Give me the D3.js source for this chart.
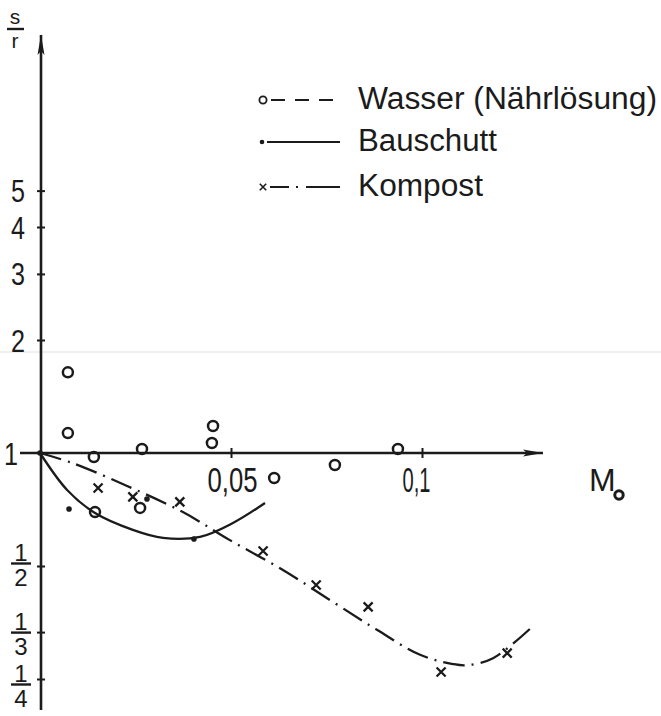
<!DOCTYPE html>
<html><head><meta charset="utf-8">
<script src="https://cdn.jsdelivr.net/npm/d3@7"></script>
<style>body{margin:0;background:#fff} svg{display:block}</style>
</head><body>
<svg id="c" width="661" height="716"></svg>
<script>
// ---- data ----
const yTicks = [1/4, 1/3, 1/2, 1, 2, 3, 4, 5];
const yTickNum = ["1", "1", "1", "1", "2", "3", "4", "5"];
const yTickDen = ["4", "3", "2", "", "", "", "", ""];
const xTicks = [0.05, 0.1];
const xTickLabels = ["0,05", "0,1"];

const wasserM  = [0.0073, 0.0073, 0.0141, 0.0267, 0.0453, 0.0450, 0.0144, 0.0262, 0.0613, 0.0772, 0.0937];
const wasserSR = [1.64,   1.13,   0.976,  1.025,  1.18,   1.063,  0.696,  0.714,  0.858,  0.929,  1.025];

const bauM  = [0, 0.0076, 0.0280, 0.0403];
const bauSR = [1, 0.709,  0.754,  0.590];
const bauCurveM  = [0, 0.0071, 0.0144, 0.0243, 0.0322, 0.0419, 0.0505, 0.0589];
const bauCurveSR = [1, 0.797,  0.692,  0.624,  0.594,  0.598,  0.651,  0.736];

const kompM  = [0.0152, 0.0243, 0.0366, 0.0584, 0.0723, 0.0859, 0.1050, 0.1223];
const kompSR = [0.807,  0.764,  0.741,  0.548,  0.445,  0.389,  0.261,  0.293];
const kompCurveM  = [0, 0.0084, 0.0228, 0.0374, 0.0497, 0.0636, 0.0767, 0.0882, 0.0995, 0.1081, 0.1118, 0.1186, 0.1288];
const kompCurveSR = [1, 0.941,  0.817,  0.696,  0.586,  0.488,  0.401,  0.338,  0.290,  0.274,  0.272,  0.284,  0.344];

const legendLabels = ["Wasser (Nährlösung)", "Bauschutt", "Kompost"];

// ---- drawing ----
const ink = "#1b1b1b";
const font = "'Liberation Sans', 'DejaVu Sans', sans-serif";
const svg = d3.select("#c");

// faint scan line
svg.append("line").attr("x1",0).attr("x2",661).attr("y1",352).attr("y2",352)
  .attr("stroke","#e2e2e2").attr("stroke-width",1.2);

const x = d3.scaleLinear().domain([0, 0.1]).range([40, 422]);
const y = d3.scaleLog().domain([0.25, 4]).range([679, 227]);

const defs = svg.append("defs");
defs.append("marker").attr("id","arr").attr("viewBox","0 0 20 10").attr("refX",20).attr("refY",5)
  .attr("markerWidth",20).attr("markerHeight",10).attr("markerUnits","userSpaceOnUse").attr("orient","auto")
  .append("path").attr("d","M0,1.5 L20,5 L0,8.5 L4,5 Z").attr("fill",ink);

// axes lines
const x0 = x(0), y1 = y(1);
svg.append("line").attr("x1",x0+1).attr("x2",x0+1).attr("y1",710).attr("y2",35)
  .attr("stroke",ink).attr("stroke-width",2.6).attr("marker-end","url(#arr)");
svg.append("line").attr("x1",20).attr("x2",543).attr("y1",y1).attr("y2",y1)
  .attr("stroke",ink).attr("stroke-width",2.4).attr("marker-end","url(#arr)");

// y axis ticks
const yAx = svg.append("g").attr("transform",`translate(${x0+1},0)`)
  .call(d3.axisLeft(y).tickValues(yTicks).tickSize(4).tickFormat(() => ""));
yAx.select(".domain").remove();
yAx.selectAll(".tick line").attr("x1",4).attr("stroke",ink).attr("stroke-width",2);
yAx.selectAll(".tick").filter(d => Math.abs(d-1) < 1e-9).select("line").remove();
yAx.selectAll(".tick").each(function(d, i) {
  const g = d3.select(this);
  g.select("text").remove();
  if (yTickDen[i] === "") {
    g.append("text").attr("x", d === 1 ? -23 : -16).attr("y", 11).attr("text-anchor","end")
      .attr("font-family",font).attr("font-size",31).attr("fill",ink)
      .attr("textLength", 14).attr("lengthAdjust","spacingAndGlyphs").text(yTickNum[i]);
  } else {
    const off = d === 0.5 ? -3 : (d === 0.25 ? 5 : 0);
    const cx = -20;
    const t = g.append("text").attr("text-anchor","middle")
      .attr("font-family",font).attr("font-size",24).attr("fill",ink);
    t.append("tspan").attr("x",cx).attr("y",off-3).text(yTickNum[i]);
    t.append("tspan").attr("x",cx).attr("y",off+22).text(yTickDen[i]);
    g.append("line").attr("x1",cx-10).attr("x2",cx+10).attr("y1",off).attr("y2",off)
      .attr("stroke",ink).attr("stroke-width",2.4);
  }
});

// x axis ticks
const xAx = svg.append("g").attr("transform",`translate(0,${y1})`)
  .call(d3.axisBottom(x).tickValues(xTicks).tickSize(5).tickFormat((d,i) => xTickLabels[i]));
xAx.select(".domain").remove();
xAx.selectAll(".tick line").attr("y1",-5).attr("stroke",ink).attr("stroke-width",2);
xAx.selectAll(".tick text").attr("font-family",font).attr("font-size",35).attr("fill",ink)
  .attr("y",14).attr("dy","0.71em").attr("dx",(d,i) => i === 1 ? -6 : 1)
  .attr("textLength",(d,i) => i === 1 ? 28 : 50).attr("lengthAdjust","spacingAndGlyphs");

// s/r label
const sr = svg.append("text").attr("text-anchor","middle").attr("font-family",font)
  .attr("font-size",21).attr("fill",ink);
sr.append("tspan").attr("x",15).attr("y",24).text("s");
sr.append("tspan").attr("x",15).attr("y",48).text("r");
svg.append("line").attr("x1",7).attr("x2",24).attr("y1",29).attr("y2",29).attr("stroke",ink).attr("stroke-width",2.4);

// M0 label
svg.append("text").attr("x",589).attr("y",491).attr("font-family",font)
  .attr("font-size",32).attr("fill",ink).text("M");
svg.append("circle").attr("cx",619).attr("cy",495).attr("r",4.2).attr("fill","none").attr("stroke",ink).attr("stroke-width",3);

// curves
const line = d3.line().x(d => x(d[0])).y(d => y(d[1])).curve(d3.curveCatmullRom.alpha(0.5));
svg.append("path").datum(d3.zip(bauCurveM, bauCurveSR)).attr("d", line)
  .attr("fill","none").attr("stroke",ink).attr("stroke-width",2.3);
svg.append("path").datum(d3.zip(kompCurveM, kompCurveSR)).attr("d", line)
  .attr("fill","none").attr("stroke",ink).attr("stroke-width",2.3).attr("stroke-dasharray","22,7,2,7");

// markers
svg.append("g").selectAll("circle").data(d3.zip(wasserM, wasserSR)).join("circle")
  .attr("cx", d => x(d[0])).attr("cy", d => y(d[1])).attr("r",5)
  .attr("fill","none").attr("stroke",ink).attr("stroke-width",2.5);
svg.append("g").selectAll("circle").data(d3.zip(bauM, bauSR)).join("circle")
  .attr("cx", d => x(d[0])).attr("cy", d => y(d[1])).attr("r",2.8).attr("fill",ink);
const cross = s => `M${-s},${-s}L${s},${s}M${-s},${s}L${s},${-s}`;
svg.append("g").selectAll("path").data(d3.zip(kompM, kompSR)).join("path")
  .attr("transform", d => `translate(${x(d[0])},${y(d[1])})`).attr("d", cross(4.5))
  .attr("stroke",ink).attr("stroke-width",2.3).attr("fill","none");

// legend
const lg = svg.append("g");
const rowY = [100, 142, 187];
const textW = [299, 139, 125];
lg.append("circle").attr("cx",263).attr("cy",rowY[0]).attr("r",3.6).attr("fill","none").attr("stroke",ink).attr("stroke-width",1.8);
lg.append("line").attr("x1",271).attr("x2",341).attr("y1",rowY[0]).attr("y2",rowY[0])
  .attr("stroke",ink).attr("stroke-width",2).attr("stroke-dasharray","14,10");
lg.append("circle").attr("cx",262).attr("cy",rowY[1]).attr("r",2.3).attr("fill",ink);
lg.append("line").attr("x1",267).attr("x2",340).attr("y1",rowY[1]).attr("y2",rowY[1])
  .attr("stroke",ink).attr("stroke-width",2);
lg.append("path").attr("transform",`translate(263,${rowY[2]})`).attr("d",cross(3.2))
  .attr("stroke",ink).attr("stroke-width",1.6);
lg.append("line").attr("x1",270).attr("x2",340).attr("y1",rowY[2]).attr("y2",rowY[2])
  .attr("stroke",ink).attr("stroke-width",2).attr("stroke-dasharray","19,7,2,8,40");
lg.selectAll("text").data(legendLabels).join("text")
  .attr("x",358).attr("y",(d,i) => rowY[i] + 9).attr("font-family",font).attr("font-size",31)
  .attr("fill",ink).attr("textLength",(d,i) => textW[i]).attr("lengthAdjust","spacingAndGlyphs").text(d => d);
</script>
</body></html>
